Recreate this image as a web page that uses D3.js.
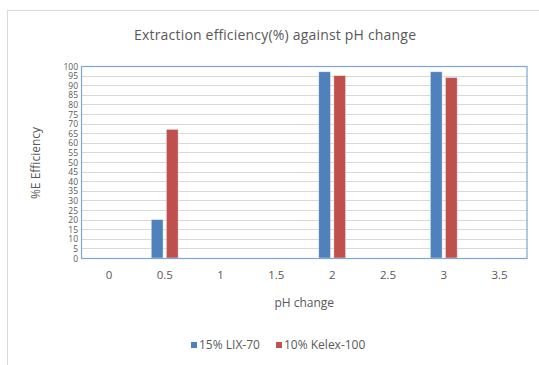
<!DOCTYPE html>
<html><head><meta charset="utf-8">
<script src="https://cdn.jsdelivr.net/npm/d3@7/dist/d3.min.js"></script>
<style>body{margin:0;background:#fff;} text{font-family:"Open Sans","Liberation Sans",sans-serif;}</style>
</head><body><svg id="c" width="539" height="365"></svg>
<script>
const categories = ["0","0.5","1","1.5","2","2.5","3","3.5"];
const seriesNames = ["15% LIX-70","10% Kelex-100"];
const lix70 = [null,20,null,null,97,null,97,null];
const kelex100 = [null,67,null,null,95,null,94,null];
const yTicks = d3.range(0,101,5);
const colors = ["#4F81BD","#C0504D"];

const svg = d3.select("#c");
const W=539,H=365;
const m={l:81,r:539-527.5,t:66,b:365-258};
const pw=W-m.l-m.r, ph=H-m.t-m.b;

svg.append("rect").attr("x",7.5).attr("y",10.5).attr("width",540).attr("height",360)
  .attr("fill","#fff").attr("stroke","#d9d9d9");

const x=d3.scaleBand().domain(categories).range([m.l,m.l+pw]);
const xs=d3.scaleBand().domain(seriesNames).range([0,x.bandwidth()]).paddingInner(0.22).paddingOuter(0.96);
const y=d3.scaleLinear().domain([0,100]).range([m.t+ph,m.t]);

const g=svg.append("g");
g.selectAll("line.grid").data(yTicks).join("line")
  .attr("x1",m.l).attr("x2",m.l+pw).attr("y1",d=>Math.round(y(d))+0.5).attr("y2",d=>Math.round(y(d))+0.5)
  .attr("stroke","#d9d9d9").attr("stroke-width",1);

const data=[lix70,kelex100];
data.forEach((arr,si)=>{
  g.selectAll("rect.s"+si).data(categories.map((c,i)=>({c,v:arr[i]})).filter(d=>d.v!=null)).join("rect")
    .attr("x",d=>x(d.c)+xs(seriesNames[si]))
    .attr("width",xs.bandwidth())
    .attr("y",d=>y(d.v)).attr("height",d=>y(0)-y(d.v))
    .attr("fill",colors[si]).attr("stroke","#fff").attr("stroke-opacity",0.5).attr("stroke-width",0.8);
});

svg.append("rect").attr("x",m.l+0.5).attr("y",m.t+0.5).attr("width",pw-1).attr("height",ph)
  .attr("fill","none").attr("stroke","#7ea6d8").attr("stroke-width",1.2);

const ya=svg.append("g").attr("transform",`translate(${m.l-3},0)`)
  .call(d3.axisLeft(y).tickValues(yTicks).tickSize(0).tickPadding(0));
ya.select(".domain").remove();
ya.selectAll("text").attr("fill","#595959").style("font-size","8.5px").attr("dy","0.36em");

const xa=svg.append("g").attr("transform",`translate(0,${m.t+ph+8})`)
  .call(d3.axisBottom(x).tickSize(0).tickPadding(5));
xa.select(".domain").remove();
xa.selectAll("text").attr("fill","#595959").style("font-size","11.5px");

svg.append("text").attr("x",275).attr("y",40).attr("text-anchor","middle")
  .attr("fill","#595959").style("font-size","14px").attr("textLength",282).text("Extraction efficiency(%) against pH change");
svg.append("text").attr("x",m.l+pw/2).attr("y",307).attr("text-anchor","middle")
  .attr("fill","#595959").style("font-size","12px").text("pH change");
svg.append("text").attr("transform","translate(40,163) rotate(-90)").attr("text-anchor","middle")
  .attr("fill","#595959").style("font-size","12px").text("%E Efficiency");

const lg=svg.append("g");
const lx=[191,276];
seriesNames.forEach((n,i)=>{
  lg.append("rect").attr("x",lx[i]).attr("y",342).attr("width",6).attr("height",6).attr("fill",colors[i]);
  lg.append("text").attr("x",lx[i]+8).attr("y",349).attr("fill","#595959").style("font-size","12px").text(n);
});
</script></body></html>
